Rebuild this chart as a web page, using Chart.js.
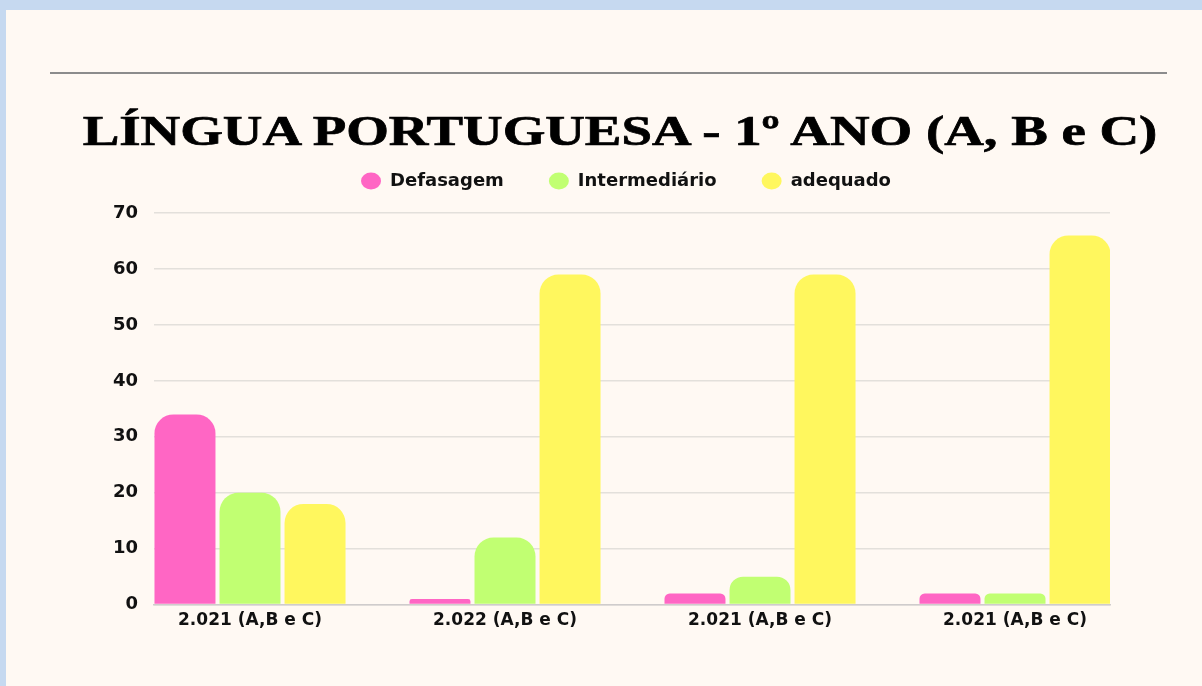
<!DOCTYPE html>
<html>
<head>
<meta charset="utf-8">
<script src="https://cdn.jsdelivr.net/npm/chart.js@4/dist/chart.umd.min.js"></script>
<style>
  html, body { margin: 0; padding: 0; }
  body { width: 1202px; height: 686px; background: #c6d9f0; position: relative; overflow: hidden; }
  .panel { position: absolute; left: 6px; top: 10px; width: 1196px; height: 676px; background: #fff9f3; }
  .rule { position: absolute; left: 44px; top: 62px; width: 1117px; height: 2px; background: #8c8c8c; }
  .title {
    position: absolute; left: 614px; top: 99px; margin: 0;
    font: bold 43px "Liberation Serif", serif; line-height: 1; color: #000;
    -webkit-text-stroke: 0.7px #000;
    white-space: nowrap; transform: translateX(-50%) scaleX(1.275); transform-origin: center;
  }
  .wrap { position: absolute; left: 0; top: 0; width: 1196px; height: 676px; }
</style>
</head>
<body>
<div class="panel">
  <div class="rule"></div>
  <h1 class="title">LÍNGUA PORTUGUESA - 1º ANO (A, B e C)</h1>
  <div class="wrap"><canvas id="myChart"></canvas></div>
</div>
<script>
const categories = ["2.021 (A,B e C)", "2.022 (A,B e C)", "2.021 (A,B e C)", "2.021 (A,B e C)"];
const defasagem = [34, 1, 2, 2];
const intermediario = [20, 12, 5, 2];
const adequado = [18, 59, 59, 66];
const yTicks = [0, 10, 20, 30, 40, 50, 60, 70];

const toPoints = (arr) => arr.map((v, i) => ({ x: i, y: v }));

// legend sits a bit right of the plot centre and closer to the title
const shiftLegend = {
  id: "shiftLegend",
  afterLayout(chart) {
    chart.legend.left += 18;
    chart.legend.right += 18;
    chart.legend.top -= 13;
    chart.legend.bottom -= 13;
  },
};

const barStyle = {
  borderRadius: { topLeft: 19, topRight: 19 },
  borderSkipped: "start",
  categoryPercentage: 0.765,
  barPercentage: 0.938,
};

const ctx = document.getElementById("myChart");
new Chart(ctx, {
  type: "bar",
  data: {
    datasets: [
      { label: "Defasagem", data: toPoints(defasagem), backgroundColor: "#ff66c4", ...barStyle },
      { label: "Intermediário", data: toPoints(intermediario), backgroundColor: "#c1ff72", ...barStyle },
      { label: "adequado", data: toPoints(adequado), backgroundColor: "#fff75e", ...barStyle },
    ],
  },
  options: {
    responsive: true,
    maintainAspectRatio: false,
    animation: false,
    devicePixelRatio: 1,
    layout: { padding: { left: 100, right: 92, top: 130, bottom: 49 } },
    plugins: {
      tooltip: { enabled: false },
      title: { display: false },
      legend: {
        display: true,
        labels: {
          usePointStyle: true,
          pointStyle: "circle",
          boxHeight: 12,
          pointStyleWidth: 20,
          padding: 45,
          color: "#111",
          font: { family: "DejaVu Sans", size: 18, weight: "bold" },
        },
      },
    },
    scales: {
      x: {
        type: "linear",
        offset: false,
        min: -0.3765,
        max: 3.3725,
        grid: { display: false, offset: false, drawTicks: false },
        border: { display: true, color: "#cfcccc", width: 1.5 },
        ticks: {
          stepSize: 1,
          includeBounds: false,
          autoSkip: false,
          maxRotation: 0,
          padding: 6,
          color: "#111",
          font: { family: "DejaVu Sans", size: 17, weight: "bold" },
          callback: (v) => categories[v] ?? "",
        },
      },
      y: {
        min: 0,
        max: 70,
        afterFit: (scale) => { scale.width = 48; },
        afterBuildTicks: (scale) => { scale.ticks = yTicks.map((v) => ({ value: v })); },
        grid: { color: "#e3e0db", lineWidth: 1.5, drawTicks: false },
        border: { display: false },
        ticks: {
          padding: 16,
          color: "#111",
          font: { family: "DejaVu Sans", size: 18, weight: "bold" },
        },
      },
    },
  },
  plugins: [shiftLegend],
});
</script>
</body>
</html>
